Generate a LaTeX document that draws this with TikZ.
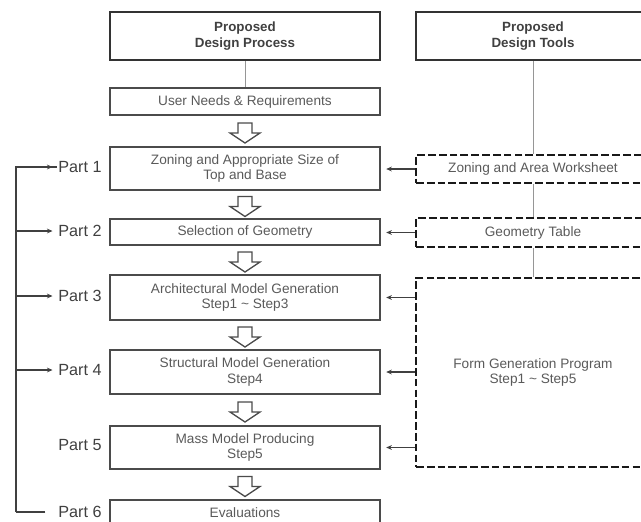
\documentclass[tikz,border=0pt]{standalone}
\usepackage{fontspec}
\setmainfont{Liberation Sans}
\usepackage{tikz}
\usetikzlibrary{arrows.meta,positioning,calc}
\definecolor{boxGray}{RGB}{75,75,75}
\definecolor{textGray}{RGB}{90,90,90}
\definecolor{guideGray}{RGB}{150,150,150}

\tikzset{
  procbox/.style={draw=boxGray, line width=0.8pt, minimum width=6.75cm,
    inner sep=0pt, align=center, text=textGray,
    font=\fontsize{9.7}{11.2}\selectfont},
  headbox/.style={draw=black!80, line width=2pt, minimum height=1.2cm,
    inner sep=0pt, align=center, text=black!75,
    font=\bfseries\fontsize{9.5}{10.8}\selectfont},
  toolbox/.style={draw=black!90, line width=1.9pt, dash pattern=on 5.5pt off 2.2pt,
    minimum width=5.85cm, inner sep=0pt, align=center, text=textGray,
    font=\fontsize{9.7}{11.2}\selectfont},
  partlabel/.style={font=\fontsize{11.5}{12}\selectfont, text=black!75, inner sep=1pt},
  guideline/.style={draw=guideGray, line width=0.6pt},
  feedline/.style={draw=black!75, line width=0.8pt},
  inarrow/.style={draw=black!75, line width=0.8pt, -{Stealth[length=4pt,width=3.4pt]}},
  flowarrow/.pic={
    \draw[draw=boxGray, line width=0.9pt, fill=white]
      (-7,-10) -- (7,-10) -- (7,0) -- (15,0) -- (0,10) -- (-15,0) -- (-7,0) -- cycle;
  }
}

\begin{document}
\begin{tikzpicture}[x=0.025cm, y=-0.025cm]
  \useasboundingbox (0,0) rectangle (641,522);
  \clip (0,0) rectangle (641,522);

  % column heads
  \node[headbox, minimum width=6.75cm] (headproc) at (245,36) {Proposed\\Design Process};
  \node[headbox, minimum width=5.85cm] (headtool) at (533,36) {Proposed\\Design Tools};

  % design process
  \node[procbox, minimum height=0.675cm] (needs) at (245,101.5) {User Needs \& Requirements};
  \node[procbox, minimum height=1.075cm] (zoning) at (245,168.5) {Zoning and Appropriate Size of\\Top and Base};
  \node[procbox, minimum height=0.65cm] (geometry) at (245,232) {Selection of Geometry};
  \node[procbox, minimum height=1.125cm] (archmodel) at (245,297.5) {Architectural Model Generation\\Step1 \textasciitilde{} Step3};
  \node[procbox, minimum height=1.1cm] (structmodel) at (245,372) {Structural Model Generation\\Step4};
  \node[procbox, minimum height=1.075cm] (massmodel) at (245,447.5) {Mass Model Producing\\Step5};
  \node[procbox, minimum height=0.65cm] (evaluation) at (245,513) {Evaluations};

  % design tools
  \node[toolbox, minimum height=0.7cm] (worksheet) at (533,169) {Zoning and Area Worksheet};
  \node[toolbox, minimum height=0.725cm] (geotable) at (533,232.5) {Geometry Table};
  \node[toolbox, minimum height=4.725cm] (formprog) at (533,372.5) {Form Generation Program\\Step1 \textasciitilde{} Step5};

  % part labels
  \node[partlabel] (part1) at (80,167) {Part 1};
  \node[partlabel] (part2) at (80,231) {Part 2};
  \node[partlabel] (part3) at (80,296) {Part 3};
  \node[partlabel] (part4) at (80,370) {Part 4};
  \node[partlabel] (part5) at (80,445) {Part 5};
  \node[partlabel] (part6) at (80,512) {Part 6};

  % vertical guides
  \draw[guideline] (headproc.south) -- (needs.north);
  \draw[guideline] (headtool.south) -- (worksheet.north);
  \draw[guideline] (worksheet.south) -- (geotable.north);
  \draw[guideline] (geotable.south) -- (formprog.north);

  % hollow flow arrows
  \foreach \a/\b in {needs/zoning, zoning/geometry, geometry/archmodel,
                     archmodel/structmodel, structmodel/massmodel, massmodel/evaluation}
    \pic at ($(\a.south)!0.5!(\b.north)+(0,2)$) {flowarrow};

  % tools feeding the process
  \draw[inarrow, shorten >=4pt] (worksheet.west) -- (zoning.east |- worksheet.west);
  \draw[inarrow, shorten >=4pt] (geotable.west) -- (geometry.east |- geotable.west);
  \draw[inarrow, shorten >=4pt] (formprog.west |- archmodel.east) -- (archmodel.east);
  \draw[inarrow, shorten >=4pt] (formprog.west |- structmodel.east) -- (structmodel.east);
  \draw[inarrow, shorten >=4pt] (formprog.west |- massmodel.east) -- (massmodel.east);

  % feedback loop
  \coordinate (loopbot) at (16,512);
  \draw[feedline, shorten <=8pt] (part6.west) -- (loopbot);
  \draw[feedline] (loopbot) |- (part1.west);
  \draw[inarrow, shorten >=3pt] (loopbot |- part1.west) -- (part1.west);
  \foreach \p in {part2, part3, part4}
    \draw[inarrow, shorten >=3pt] (loopbot |- \p.west) -- (\p.west);
\end{tikzpicture}
\end{document}
